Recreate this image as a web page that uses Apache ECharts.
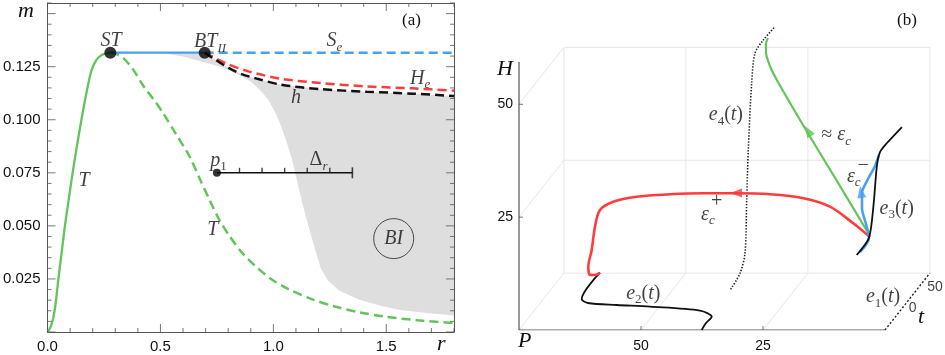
<!DOCTYPE html>
<html>
<head>
<meta charset="utf-8">
<script src="https://cdn.jsdelivr.net/npm/echarts@6.0.0/dist/echarts.min.js"></script>
<style>
  html, body { margin: 0; padding: 0; background: #fff; }
  #chart { width: 945px; height: 355px; }
</style>
</head>
<body>
<div id="chart"></div>
<script>
// ---------- panel (a): r-m bifurcation diagram ----------
const rLabels = [0, 0.5, 1.0, 1.5];
const mLabels = [0.025, 0.05, 0.075, 0.1, 0.125];
const rRange = [0, 1.8];
const mRange = [0, 0.155];
const rStep = [0.5, 0.1];      // major / minor tick spacing
const mStep = [0.025, 0.005];

// transcritical curve T (stable part, then dashed part)
const tSolid = [[0, 0], [0.012, 0.002], [0.024, 0.006], [0.034, 0.012], [0.042, 0.019], [0.048, 0.025],
  [0.062, 0.037], [0.077, 0.05], [0.094, 0.0625], [0.111, 0.075], [0.13, 0.0875], [0.15, 0.1],
  [0.172, 0.1125], [0.194, 0.123], [0.215, 0.128], [0.24, 0.1305], [0.278, 0.1316]];
const tDashed = [[0.278, 0.1316], [0.3, 0.1312], [0.336, 0.129], [0.38, 0.1235], [0.424, 0.116],
  [0.47, 0.1095], [0.512, 0.1031], [0.57, 0.093], [0.629, 0.0827], [0.675, 0.072], [0.717, 0.0623],
  [0.76, 0.053], [0.804, 0.0455], [0.86, 0.0375], [0.921, 0.031], [0.99, 0.025], [1.067, 0.0202],
  [1.17, 0.0155], [1.272, 0.012], [1.38, 0.0093], [1.49, 0.0073], [1.64, 0.0055], [1.8, 0.0042]];
// saddle-node line S_e
const seSolid = [[0.278, 0.1316], [0.696, 0.1316]];
const seDashed = [[0.696, 0.1316], [1.8, 0.1316]];
// Hopf H_e and homoclinic h
const heCurve = [[0.696, 0.1316], [0.714, 0.1307], [0.788, 0.1267], [0.889, 0.1228], [1.035, 0.1193],
  [1.21, 0.1173], [1.413, 0.1157], [1.617, 0.1148], [1.8, 0.1137]];
const hCurve = [[0.696, 0.1316], [0.74, 0.1285], [0.802, 0.1244], [0.86, 0.1215], [0.918, 0.1196],
  [1.035, 0.1165], [1.21, 0.1144], [1.413, 0.1132], [1.617, 0.1123], [1.8, 0.1112]];
// bistability region BI
const biTop = [[0.5, 0.1316], [0.696, 0.1316]].concat(hCurve.slice(1));
const biBottom = [[0.5, 0.1316], [0.6, 0.1298], [0.69, 0.1272], [0.78, 0.1245], [0.86, 0.1205],
  [0.9, 0.118], [0.94, 0.114], [0.977, 0.1095], [1.01, 0.103], [1.035, 0.0968], [1.06, 0.089],
  [1.079, 0.0827], [1.1, 0.0735], [1.13, 0.06], [1.16, 0.048], [1.19, 0.037], [1.21, 0.03],
  [1.24, 0.0245], [1.29, 0.0195], [1.384, 0.0151], [1.48, 0.0122], [1.56, 0.0104], [1.68, 0.0089],
  [1.8, 0.0078]];
const bigDots = [[0.278, 0.1316], [0.696, 0.1316]];
const p1 = [0.75, 0.075];
const deltaEnd = 1.35;
const deltaTicks = [0.85, 0.95, 1.05, 1.15, 1.25];
const biMark = [1.533, 0.044];
const labelsA = [
  [0.281, 0.1372, '{it|ST}'],
  [0.72, 0.1368, '{it|BT}{subi|II}'],
  [1.27, 0.1372, '{it|S}{subi|e}'],
  [1.65, 0.1195, '{it|H}{subi|e}'],
  [1.1, 0.1102, '{it|h}'],
  [0.757, 0.0808, '{it|p}{sub|1}'],
  [1.2, 0.0812, '{rm|Δ}{subi|r}'],
  [0.162, 0.0714, '{it|T}'],
  [0.732, 0.0481, '{it|T}'],
  [1.533, 0.044, '{it|BI}']
];

// ---------- panel (b): projected phase-space view (P left-right, H up) ----------
const pLabels = [25, 50];
const hLabels = [25, 50];
const pGrid = [0, 25, 50, 75];
const hGrid = [0, 25, 50];
const depth = [-9.2, 12.6];          // projected offset of the back of the box
const epsPlus = [[3.07, 20.6], [6.5, 23.64], [11.27, 27.32], [16.74, 29.18], [23.57, 30.06],
  [30.39, 30.28], [37.23, 30.28], [44.06, 30.06], [50.88, 29.53], [55.68, 28.42], [58.4, 26.58],
  [59.43, 22.88], [60.1, 17.72], [60.8, 14.02], [60.45, 12.18], [59.43, 12.18], [58.4, 12.69]];
const epsC = [[3.69, 21.93], [9.84, 33.01], [16.19, 44.31], [21.93, 54.94], [23.57, 58.49],
  [24.39, 61.59], [24.39, 63.36], [23.98, 64.69]];
const epsMinus = [[5.12, 17.28], [3.28, 20.38], [3.89, 23.48], [4.71, 27.03], [4.71, 30.35],
  [3.69, 33.01], [2.05, 36.33], [1.23, 38.77]];
const e2 = [[58.4, 12.69], [62.15, 6.87], [60.86, 5.98], [54.92, 5.54], [48.16, 5.16], [37.91, 4.28],
  [35.51, 2.95], [36.68, 1.55], [37.56, 0]];
const e3 = [[5.8, 16.61], [3.48, 19.94], [2.87, 22.6], [2.25, 28.8], [1.64, 36.55], [1.02, 39.43],
  [-0.41, 41.43], [-3.48, 44.97]];
const e4 = [[31.62, 9.02], [29.71, 12.56], [28.69, 16.99], [28.34, 28.8], [28.01, 39.88],
  [27.32, 54.65], [26.64, 61.3], [24.94, 64.24], [22.54, 67.19]];
const arrowsB = [
  { value: [30.53, 30.35], rot: 90, color: '#ff3b3b' },
  { value: [15.78, 44.09], rot: 31, color: '#62c45a' },
  { value: [4.92, 30.57], rot: 8, color: '#4a9ff0' }
];
const labelsB = [
  [32.6, 47.6, '{it|e}{sub|4}{rm|(}{it|t}{rm|)}'],
  [10.0, 43.2, '{rm|≈ }{it|ε}{subi|c}'],
  [6.4, 34.0, '{it|ε}{subi|c}'],
  [4.5, 36.4, '{rm|−}'],
  [-2.4, 26.96, '{it|e}{sub|3}{rm|(}{it|t}{rm|)}'],
  [36.3, 25.6, '{it|ε}{subi|c}'],
  [34.5, 28.4, '{rm|+}'],
  [49.53, 8.13, '{it|e}{sub|2}{rm|(}{it|t}{rm|)}'],
  [0.4, 7.38, '{it|e}{sub|1}{rm|(}{it|t}{rm|)}']
];
const tAxisLabels = [[-5.68, 4.81, '0'], [-10.25, 9.59, '50']];

const serif = 'Liberation Serif';
const sans = 'Liberation Sans';
const rich = {
  it: { fontFamily: serif, fontStyle: 'italic', fontSize: 20, lineHeight: 26, color: '#111' },
  rm: { fontFamily: serif, fontSize: 20, lineHeight: 26, color: '#111' },
  sub: { fontFamily: serif, fontSize: 13, lineHeight: 15, verticalAlign: 'bottom', color: '#111' },
  subi: { fontFamily: serif, fontStyle: 'italic', fontSize: 13, lineHeight: 15, verticalAlign: 'bottom', color: '#111' }
};

const green = '#62c45a', blue = '#4a9ff0', red = '#ff3b3b', frame = '#555';

function frameAxis(dim, pos, labels) {
  const ax = {
    type: 'value', gridIndex: 0, position: pos,
    min: dim === 'x' ? rRange[0] : mRange[0], max: dim === 'x' ? rRange[1] : mRange[1],
    axisLine: { show: true, onZero: false, lineStyle: { color: frame, width: 1 } },
    axisTick: { show: false },
    axisLabel: { show: false },
    splitLine: { show: false }
  };
  if (labels) {
    ax.axisLabel = {
      show: true, customValues: labels, fontFamily: sans, fontSize: 15, color: '#111', margin: 7,
      formatter: v => dim === 'x' ? v.toFixed(1) : v.toFixed(3)
    };
  }
  return ax;
}

// inward frame ticks of panel (a), drawn as thin rect symbols on the axes
function frameTicks() {
  const items = [];
  const add = (v, size, off) => items.push({ value: v, symbolSize: size, symbolOffset: off });
  for (let i = 0; i * rStep[1] <= rRange[1] + 1e-9; i++) {
    const r = +(i * rStep[1]).toFixed(3);
    const len = (i % 5 === 0) ? 8 : 4;
    add([r, mRange[0]], [1, len], [0, -len / 2]);
    add([r, mRange[1]], [1, len], [0, len / 2]);
  }
  for (let i = 0; i * mStep[1] <= mRange[1] + 1e-9; i++) {
    const m = +(i * mStep[1]).toFixed(4);
    const len = (i % 5 === 0) ? 8 : 4;
    add([rRange[0], m], [len, 1], [len / 2, 0]);
    add([rRange[1], m], [len, 1], [-len / 2, 0]);
  }
  return {
    type: 'scatter', xAxisIndex: 0, yAxisIndex: 0, silent: true, clip: false, z: 8,
    symbol: 'rect', itemStyle: { color: frame }, data: items
  };
}

function seg(a, b, color, width, type, z) {
  return {
    type: 'line', xAxisIndex: 2, yAxisIndex: 2, data: [a, b], symbol: 'none', silent: true,
    lineStyle: { color: color, width: width, type: type || 'solid' }, z: z || 1
  };
}
function line(data, color, width, type, idx, smooth, z) {
  return {
    type: 'line', xAxisIndex: idx, yAxisIndex: idx, data: data, symbol: 'none', silent: true,
    smooth: smooth, lineStyle: { color: color, width: width, type: type || 'solid' }, z: z || 3
  };
}

// faint box of panel (b)
const boxSeries = [];
const faint = '#e6e6e6';
const back = (p, h) => [p + depth[0], h + depth[1]];
pGrid.forEach(p => boxSeries.push(seg(back(p, 0), back(p, 50), faint, 1)));
hGrid.forEach(h => boxSeries.push(seg(back(0, h), back(75, h), faint, 1)));
[25, 50, 75].forEach(p => boxSeries.push(seg([p, 0], back(p, 0), faint, 1)));
[25, 50].forEach(h => boxSeries.push(seg([75, h], back(75, h), faint, 1)));
boxSeries.push(seg([75, 0], [75, 59.4], frame, 1.2, 'solid', 2));
boxSeries.push(seg([75, 0], [0, 0], frame, 1.2, 'solid', 2));
boxSeries.push(seg([0, 0], back(0, 0), '#222', 1.4, [2, 2], 2));
boxSeries.push({
  type: 'scatter', xAxisIndex: 2, yAxisIndex: 2, silent: true, clip: false, z: 2,
  symbol: 'rect', itemStyle: { color: frame },
  data: pLabels.map(p => ({ value: [p, 0], symbolSize: [1, 4], symbolOffset: [0, -2] }))
    .concat(hLabels.map(h => ({ value: [75, h], symbolSize: [4, 1], symbolOffset: [2, 0] })))
});

const chart = echarts.init(document.getElementById('chart'));
chart.setOption({
  animation: false,
  grid: [
    { left: 43, right: 491, top: 3, bottom: 23 },
    { left: 519, right: 0, top: 5, bottom: 25 }
  ],
  xAxis: [
    frameAxis('x', 'bottom', rLabels),
    frameAxis('x', 'top'),
    {
      type: 'value', gridIndex: 1, inverse: true, min: -12.3, max: 75, position: 'bottom',
      axisLine: { show: false, onZero: false },
      axisTick: { show: false },
      axisLabel: { customValues: pLabels, fontFamily: sans, fontSize: 14, color: '#111', margin: 9 },
      splitLine: { show: false }
    }
  ],
  yAxis: [
    frameAxis('y', 'left', mLabels),
    frameAxis('y', 'right'),
    {
      type: 'value', gridIndex: 1, min: 0, max: 72, position: 'left',
      axisLine: { show: false, onZero: false },
      axisTick: { show: false },
      axisLabel: { customValues: hLabels, fontFamily: sans, fontSize: 14, color: '#111', margin: 6 },
      splitLine: { show: false }
    }
  ],
  graphic: [
    { type: 'text', left: 402, top: 12, style: { text: '(a)', font: '17px "Liberation Serif"', fill: '#111' } },
    { type: 'text', left: 18, top: 0, style: { text: 'm', font: 'italic 22px "Liberation Serif"', fill: '#111' } },
    { type: 'text', left: 437, top: 333, style: { text: 'r', font: 'italic 22px "Liberation Serif"', fill: '#111' } },
    { type: 'text', left: 897, top: 12, style: { text: '(b)', font: '17px "Liberation Serif"', fill: '#111' } },
    { type: 'text', left: 497, top: 58, style: { text: 'H', font: 'italic 22px "Liberation Serif"', fill: '#111' } },
    { type: 'text', left: 518, top: 330, style: { text: 'P', font: 'italic 22px "Liberation Serif"', fill: '#111' } },
    { type: 'text', left: 918, top: 306, style: { text: 't', font: 'italic 22px "Liberation Serif"', fill: '#111' } }
  ],
  series: [
    {
      type: 'custom', xAxisIndex: 0, yAxisIndex: 0, silent: true, z: 1,
      data: [[1, 0.1]],
      renderItem: function (params, api) {
        const pts = biTop.concat(biBottom.slice().reverse()).map(p => api.coord(p));
        return { type: 'polygon', shape: { points: pts }, style: { fill: '#dedede' } };
      }
    },
    frameTicks(),
    line(tSolid, green, 2.3, 'solid', 0, 0.3),
    line(tDashed, green, 2.5, [9, 5], 0, 0.3),
    line(seSolid, blue, 2.3, 'solid', 0),
    line(seDashed, blue, 2.5, [9, 5], 0),
    line(heCurve, red, 2.5, [9, 5], 0, 0.3),
    line(hCurve, '#111', 2.5, [9, 5], 0, 0.3),
    line([p1, [deltaEnd, p1[1]]], '#111', 1.6, 'solid', 0),
    {
      type: 'scatter', xAxisIndex: 0, yAxisIndex: 0, silent: true, z: 5,
      symbol: 'rect', symbolSize: [1.4, 5], symbolOffset: [0, -2.5],
      itemStyle: { color: '#111' },
      data: deltaTicks.map(r => [r, p1[1]])
    },
    {
      type: 'scatter', xAxisIndex: 0, yAxisIndex: 0, silent: true, z: 5,
      symbol: 'rect', symbolSize: [1.6, 11], itemStyle: { color: '#111' },
      data: [[deltaEnd, p1[1]]]
    },
    {
      type: 'scatter', xAxisIndex: 0, yAxisIndex: 0, silent: true, z: 6,
      symbolSize: 12, itemStyle: { color: '#000' }, data: bigDots
    },
    {
      type: 'scatter', xAxisIndex: 0, yAxisIndex: 0, silent: true, z: 6,
      symbolSize: 8, itemStyle: { color: '#000' }, data: [p1]
    },
    {
      type: 'scatter', xAxisIndex: 0, yAxisIndex: 0, silent: true, z: 4,
      symbolSize: 40, itemStyle: { color: 'rgba(0,0,0,0)', borderColor: '#222', borderWidth: 1 },
      data: [biMark]
    },
    {
      type: 'scatter', xAxisIndex: 0, yAxisIndex: 0, silent: true, z: 7, symbolSize: 0,
      data: labelsA,
      label: { show: true, position: 'inside', formatter: p => p.data[2], rich: rich }
    },
    // panel (b)
    ...boxSeries,
    line(e4, '#222', 1.6, [1.4, 1.6], 2, 0.3, 3),
    line(e2, '#111', 1.8, 'solid', 2, 0.3, 4),
    line(epsPlus, red, 2.6, 'solid', 2, 0.3, 4),
    line(epsC, green, 2.2, 'solid', 2, 0.3, 4),
    line(e3, '#111', 1.8, 'solid', 2, 0.3, 5),
    line(epsMinus, blue, 2.6, 'solid', 2, 0.3, 4),
    {
      type: 'scatter', xAxisIndex: 2, yAxisIndex: 2, silent: true, z: 6,
      symbol: 'triangle', symbolSize: [9, 12],
      data: arrowsB.map(a => ({ value: a.value, symbolRotate: a.rot, itemStyle: { color: a.color } }))
    },
    {
      type: 'scatter', xAxisIndex: 2, yAxisIndex: 2, silent: true, z: 7, symbolSize: 0,
      data: labelsB,
      label: { show: true, position: 'inside', formatter: p => p.data[2], rich: rich }
    },
    {
      type: 'scatter', xAxisIndex: 2, yAxisIndex: 2, silent: true, z: 7, symbolSize: 0,
      data: tAxisLabels,
      label: { show: true, position: 'inside', formatter: p => p.data[2], fontFamily: sans, fontSize: 14, color: '#111' }
    }
  ]
});
</script>
</body>
</html>
